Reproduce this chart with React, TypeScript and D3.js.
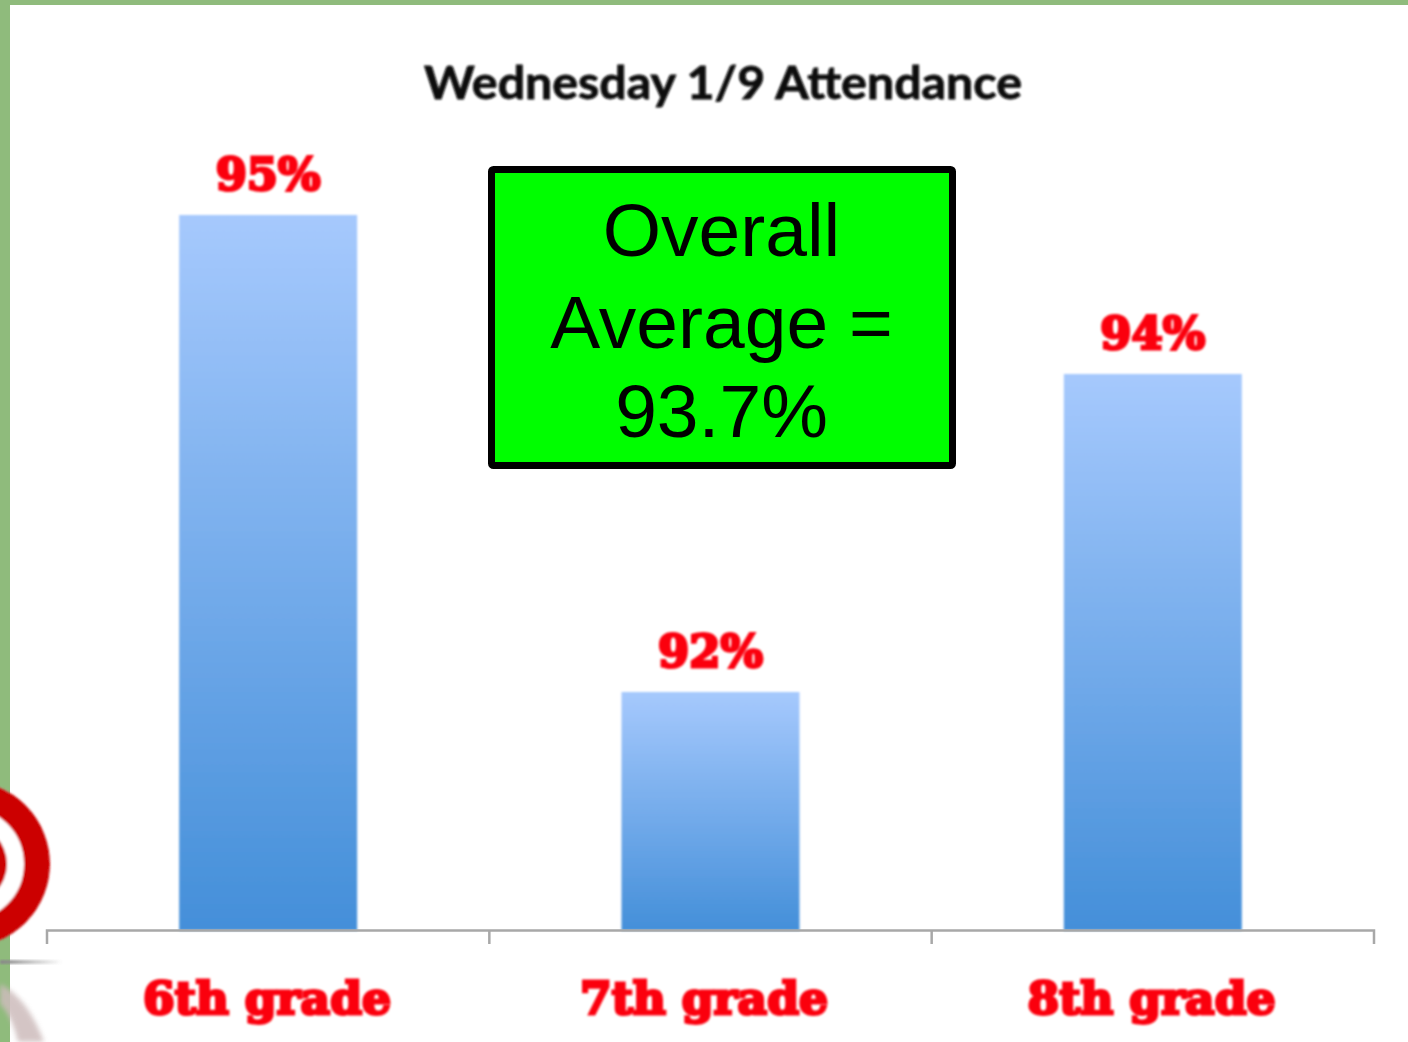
import React from "react";
import * as d3 from "d3";

const categories = ["6th grade", "7th grade", "8th grade"];
const values = [95, 92, 94];
const valueLabels = ["95%", "92%", "94%"];
const categoryLabelCenters = [267, 704, 1151.5];
const titleText = "Wednesday 1/9 Attendance";
const boxLines = ["Overall", "Average =", "93.7%"];
const boxLineBaselines = [256, 348, 437];

const W = 1408, H = 1042;
const baseY = 930.5;
const x = d3.scaleBand<string>().domain(categories).range([47, 1374]);
const y = d3.scaleLinear().domain([90.5, 95]).range([baseY, 215]);

export default function App() {
  const slab = "'DejaVu Serif', serif";
  const red = "#fb0010";
  return (
    <svg width={W} height={H} style={{ position: "absolute", left: 0, top: 0, background: "#fff" }}>
      <defs>
        <linearGradient id="bar" x1="0" x2="0" y1="0" y2="1">
          <stop offset="0" stopColor="#a6c9fd" />
          <stop offset="1" stopColor="#448fd9" />
        </linearGradient>
        <linearGradient id="tail" x1="0" x2="1" y1="0" y2="0">
          <stop offset="0" stopColor="#8a8a8a" />
          <stop offset="1" stopColor="#8a8a8a" stopOpacity="0" />
        </linearGradient>
        <filter id="soft" x="-5%" y="-5%" width="110%" height="110%"><feGaussianBlur stdDeviation="0.9" /></filter>
        <filter id="softT" x="-5%" y="-10%" width="110%" height="120%"><feGaussianBlur stdDeviation="0.8" /></filter>
        <filter id="wide" x="-30%" y="-30%" width="160%" height="160%"><feGaussianBlur stdDeviation="2.5" /></filter>
      </defs>
      <rect x={0} y={0} width={W} height={H} fill="#fff" />
      <rect x={0} y={0} width={W} height={5} fill="#8fbb7c" />
      <rect x={0} y={0} width={10} height={H} fill="#8fbb7c" />
      <line x1={11} x2={11} y1={4} y2={H} stroke="#9c9c9c" strokeWidth={2} opacity={0.6} filter="url(#soft)" />
      <line x1={10} x2={W} y1={5.5} y2={5.5} stroke="#9c9c9c" strokeWidth={2} opacity={0.6} filter="url(#soft)" />

      <g filter="url(#soft)">
        <circle cx={-33} cy={864} r={83} fill="#fff" />
        <circle cx={-33} cy={864} r={70} fill="none" stroke="#cc0000" strokeWidth={26} />
        <circle cx={-33} cy={864} r={40} fill="#cc0000" />
      </g>
      <rect x={0} y={960} width={62} height={4} fill="url(#tail)" filter="url(#soft)" />
      <path d="M0 984 C20 994 34 1015 44 1042 L18 1042 C14 1025 8 1012 0 1004 Z" fill="#cdbcbc" opacity={0.85} filter="url(#wide)" />

      <text x={723} y={99} textAnchor="middle" fontFamily="Lato, sans-serif" fontWeight={700} fontSize={46} textLength={598} lengthAdjust="spacingAndGlyphs" fill="#0a0a0a" stroke="#0a0a0a" strokeWidth={0.8} filter="url(#softT)">{titleText}</text>

      {categories.map((c, i) => {
        const cx = x(c)! + x.bandwidth() / 2;
        const barW = 178;
        return (
          <g key={c}>
            <rect x={cx - barW / 2} y={y(values[i])} width={barW} height={baseY - y(values[i])} fill="url(#bar)" filter="url(#soft)" />
            <text x={cx} y={y(values[i]) - 25} textAnchor="middle" fontFamily={slab} fontWeight={700} fontSize={44} textLength={105} lengthAdjust="spacingAndGlyphs" fill={red} stroke={red} strokeWidth={3} filter="url(#softT)">{valueLabels[i]}</text>
            <text x={categoryLabelCenters[i]} y={1014} textAnchor="middle" fontFamily={slab} fontWeight={700} fontSize={44} textLength={248} lengthAdjust="spacingAndGlyphs" fill={red} stroke={red} strokeWidth={3} filter="url(#softT)">{c}</text>
          </g>
        );
      })}

      <path d={`M47 944 V${baseY} H1374 V944`} fill="none" stroke="#a8a8a8" strokeWidth={2.5} />
      {[x(categories[1])!, x(categories[2])!].map((t) => (
        <line key={t} x1={t} x2={t} y1={baseY} y2={944} stroke="#a8a8a8" strokeWidth={2.5} />
      ))}

      <rect x={491.5} y={169.5} width={461} height={296} rx={2} fill="#00fe00" stroke="#000" strokeWidth={7} />
      {boxLines.map((l, i) => (
        <text key={l} x={721.5} y={boxLineBaselines[i]} textAnchor="middle" fontFamily="'Liberation Sans', Arial, sans-serif" fontSize={75} fill="#000">{l}</text>
      ))}
    </svg>
  );
}
